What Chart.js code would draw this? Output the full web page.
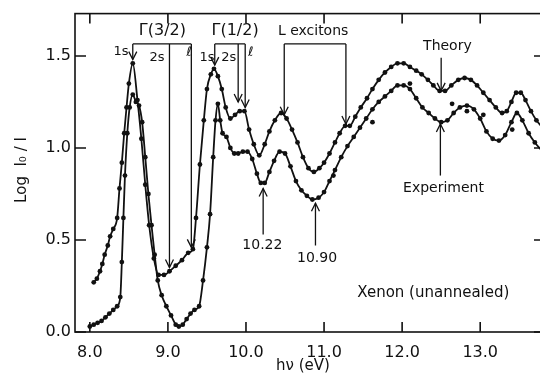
<!DOCTYPE html>
<html>
<head>
<meta charset="utf-8">
<script src="https://cdn.jsdelivr.net/npm/chart.js@4"></script>
<style>
  html, body { margin: 0; padding: 0; background: #fff; overflow: hidden; }
  #wrap { width: 540px; height: 375px; overflow: hidden; }
</style>
</head>
<body>
<div id="wrap"><canvas id="myChart" width="552" height="375"></canvas></div>
<script>
const theoryX = [8.05, 8.09, 8.13, 8.16, 8.19, 8.23, 8.26, 8.30, 8.35, 8.38, 8.41, 8.44, 8.47, 8.50, 8.55,
  8.61, 8.66, 8.71, 8.76, 8.82, 8.88, 8.95, 9.02, 9.10, 9.18, 9.26, 9.32, 9.36, 9.41, 9.46, 9.50, 9.55, 9.59,
  9.64, 9.69, 9.74, 9.80, 9.86, 9.92, 9.98, 10.04, 10.10, 10.17, 10.24, 10.30, 10.37, 10.45, 10.52, 10.59,
  10.66, 10.73, 10.80, 10.87, 10.94, 11.00, 11.07, 11.14, 11.20, 11.27, 11.33, 11.40, 11.47, 11.55, 11.62,
  11.70, 11.78, 11.86, 11.94, 12.02, 12.10, 12.18, 12.25, 12.33, 12.40, 12.48, 12.55, 12.63, 12.72, 12.80,
  12.88, 12.96, 13.04, 13.12, 13.20, 13.28, 13.34, 13.40, 13.46, 13.52, 13.58, 13.65, 13.72, 13.80];
const theoryY = [0.27, 0.29, 0.33, 0.37, 0.42, 0.47, 0.52, 0.56, 0.62, 0.78, 0.92, 1.08, 1.22, 1.35, 1.46,
  1.26, 1.05, 0.80, 0.58, 0.40, 0.31, 0.31, 0.33, 0.36, 0.39, 0.43, 0.45, 0.62, 0.91, 1.15, 1.32, 1.40, 1.43,
  1.39, 1.32, 1.22, 1.16, 1.18, 1.20, 1.20, 1.10, 1.02, 0.96, 1.02, 1.09, 1.15, 1.19, 1.16, 1.10,
  1.03, 0.95, 0.89, 0.87, 0.89, 0.92, 0.97, 1.03, 1.08, 1.12, 1.12, 1.17, 1.22, 1.27, 1.32,
  1.37, 1.41, 1.44, 1.46, 1.46, 1.44, 1.42, 1.40, 1.37, 1.34, 1.31, 1.31, 1.34, 1.37, 1.38,
  1.37, 1.34, 1.30, 1.26, 1.22, 1.19, 1.20, 1.25, 1.30, 1.30, 1.26, 1.20, 1.15, 1.11];

const exptX = [8.00, 8.05, 8.10, 8.15, 8.20, 8.25, 8.30, 8.35, 8.39, 8.41, 8.43, 8.45, 8.48, 8.51, 8.55,
  8.59, 8.63, 8.67, 8.71, 8.75, 8.79, 8.83, 8.87, 8.92, 8.98, 9.04, 9.10, 9.14, 9.19, 9.24, 9.29, 9.34, 9.40,
  9.45, 9.50, 9.54, 9.58, 9.61, 9.64, 9.67, 9.70, 9.75, 9.80, 9.85, 9.90, 9.96, 10.02, 10.08, 10.14, 10.19,
  10.24, 10.30, 10.36, 10.43, 10.50, 10.57, 10.64, 10.71, 10.78, 10.85, 10.93, 11.00, 11.07, 11.14, 11.22,
  11.30, 11.38, 11.46, 11.54, 11.62, 11.70, 11.78, 11.86, 11.94, 12.02, 12.10, 12.18, 12.26, 12.34, 12.42,
  12.50, 12.58, 12.66, 12.74, 12.83, 12.92, 13.00, 13.08, 13.16, 13.24, 13.32, 13.40, 13.47, 13.54, 13.62,
  13.70, 13.80];
const exptY = [0.03, 0.04, 0.05, 0.06, 0.08, 0.10, 0.12, 0.14, 0.19, 0.38, 0.62, 0.85, 1.08, 1.22, 1.29,
  1.25, 1.23, 1.14, 0.95, 0.75, 0.58, 0.42, 0.28, 0.20, 0.14, 0.09, 0.04, 0.03, 0.04, 0.07, 0.10, 0.12, 0.14,
  0.28, 0.46, 0.64, 0.95, 1.15, 1.24, 1.15, 1.08, 1.06, 1.00, 0.97, 0.97, 0.98, 0.98, 0.94, 0.86, 0.81,
  0.81, 0.87, 0.93, 0.98, 0.97, 0.90, 0.82, 0.77, 0.74, 0.72, 0.73, 0.76, 0.82, 0.88, 0.95,
  1.01, 1.06, 1.11, 1.16, 1.21, 1.25, 1.28, 1.31, 1.34, 1.34, 1.32, 1.27, 1.22, 1.19, 1.16,
  1.14, 1.15, 1.19, 1.22, 1.23, 1.21, 1.16, 1.09, 1.05, 1.04, 1.07, 1.14, 1.19, 1.15, 1.08,
  1.03, 0.98];

// loose experimental points lying off the curve
const looseX = [11.12, 11.62, 12.10, 12.64, 12.83, 13.04, 13.41];
const looseY = [0.85, 1.14, 1.35, 1.24, 1.20, 1.18, 1.10];

const xTicks = [8, 9, 10, 11, 12, 13];
const yTicks = [0, 0.5, 1.0, 1.5];

const FONT = '"DejaVu Sans", sans-serif';

// labels and arrows, in data units
const brackets = [
  { label: 'Γ(3/2)', x0: 8.55, x1: 9.30, y: 1.565, labelX: 8.93,
    drops: [[8.55, 1.48], [9.02, 0.35], [9.30, 0.46]],
    subs: [['1s', 8.40, 1.525], ['2s', 8.86, 1.49], ['ℓ', 9.27, 1.52]] },
  { label: 'Γ(1/2)', x0: 9.60, x1: 9.99, y: 1.565, labelX: 9.86,
    drops: [[9.60, 1.45], [9.90, 1.25], [9.99, 1.22]],
    subs: [['1s', 9.50, 1.49], ['2s', 9.78, 1.49], ['ℓ', 10.06, 1.52]] },
  { label: 'L excitons', x0: 10.49, x1: 11.28, y: 1.565, labelX: 10.86,
    drops: [[10.49, 1.18], [11.28, 1.13]], subs: [] }
];
const arrows = [
  { x: 12.50, from: 1.49, to: 1.31, text: 'Theory', tx: 12.58, ty: 1.55 },
  { x: 12.49, from: 0.85, to: 1.13, text: 'Experiment', tx: 12.53, ty: 0.78 },
  { x: 10.22, from: 0.53, to: 0.78, text: '10.22', tx: 10.21, ty: 0.47 },
  { x: 10.89, from: 0.47, to: 0.70, text: '10.90', tx: 10.91, ty: 0.40 }
];

function pts(xs, ys) { return xs.map((x, i) => ({ x: x, y: ys[i] })); }

function arrowHead(ctx, x, y, dir) {
  ctx.beginPath();
  ctx.moveTo(x - 4, y - dir * 8);
  ctx.lineTo(x, y);
  ctx.lineTo(x + 4, y - dir * 8);
  ctx.stroke();
}

const figurePlugin = {
  id: 'figure',
  afterDraw(chart) {
    const ctx = chart.ctx, a = chart.chartArea;
    const xs = chart.scales.x, ys = chart.scales.y;
    ctx.save();
    ctx.strokeStyle = '#111';
    ctx.fillStyle = '#111';
    ctx.lineWidth = 1.6;
    // frame
    ctx.strokeRect(a.left, a.top, a.right - a.left, a.bottom - a.top);
    // inward ticks
    ctx.beginPath();
    yTicks.forEach(v => {
      const py = ys.getPixelForValue(v);
      ctx.moveTo(a.left, py); ctx.lineTo(a.left + 11, py);
      ctx.moveTo(a.right, py); ctx.lineTo(a.right - 11, py);
    });
    xTicks.forEach(v => {
      const px = xs.getPixelForValue(v);
      ctx.moveTo(px, a.bottom); ctx.lineTo(px, a.bottom - 10);
      ctx.moveTo(px, a.top); ctx.lineTo(px, a.top + 10);
    });
    ctx.stroke();

    ctx.lineWidth = 1.3;
    ctx.textAlign = 'center';
    ctx.textBaseline = 'middle';
    brackets.forEach(b => {
      const by = ys.getPixelForValue(b.y);
      ctx.beginPath();
      ctx.moveTo(xs.getPixelForValue(b.x0), by);
      ctx.lineTo(xs.getPixelForValue(b.x1), by);
      b.drops.forEach(d => {
        const px = xs.getPixelForValue(d[0]);
        ctx.moveTo(px, by);
        ctx.lineTo(px, ys.getPixelForValue(d[1]));
      });
      ctx.stroke();
      b.drops.forEach(d => arrowHead(ctx, xs.getPixelForValue(d[0]), ys.getPixelForValue(d[1]), 1));
      ctx.font = (b.label === 'L excitons' ? '14px ' : '16px ') + FONT;
      ctx.fillText(b.label, xs.getPixelForValue(b.labelX), ys.getPixelForValue(1.635));
      ctx.font = '13px ' + FONT;
      b.subs.forEach(s => ctx.fillText(s[0], xs.getPixelForValue(s[1]), ys.getPixelForValue(s[2])));
    });

    arrows.forEach(r => {
      const px = xs.getPixelForValue(r.x);
      const y0 = ys.getPixelForValue(r.from), y1 = ys.getPixelForValue(r.to);
      ctx.beginPath();
      ctx.moveTo(px, y0); ctx.lineTo(px, y1);
      ctx.stroke();
      arrowHead(ctx, px, y1, y1 > y0 ? 1 : -1);
      ctx.font = '14px ' + FONT;
      ctx.fillText(r.text, xs.getPixelForValue(r.tx), ys.getPixelForValue(r.ty));
    });

    ctx.font = '15px ' + FONT;
    ctx.fillText('Xenon (unannealed)', xs.getPixelForValue(12.40), ys.getPixelForValue(0.21));

    // axis titles
    ctx.font = '15px ' + FONT;
    ctx.fillText('hν (eV)', 303, 366);
    ctx.translate(22, 170);
    ctx.rotate(-Math.PI / 2);
    ctx.fillText('Log  I₀ / I', 0, 0);
    ctx.restore();
  }
};

new Chart(document.getElementById('myChart').getContext('2d'), {
  type: 'line',
  data: {
    datasets: [
      { label: 'Theory', data: pts(theoryX, theoryY) },
      { label: 'Experiment', data: pts(exptX, exptY) },
      { label: 'Experiment points', data: pts(looseX, looseY), showLine: false }
    ]
  },
  options: {
    responsive: false,
    devicePixelRatio: 1,
    animation: false,
    layout: { padding: { top: 6, right: 7, left: 0, bottom: 0 } },
    elements: {
      line: { borderColor: '#111', borderWidth: 1.8, cubicInterpolationMode: 'monotone' },
      point: { radius: 2.4, backgroundColor: '#111', borderColor: '#111', borderWidth: 0 }
    },
    plugins: { legend: { display: false }, tooltip: { enabled: false } },
    scales: {
      x: {
        type: 'linear', min: 7.81, max: 13.83,
        grid: { display: false, drawTicks: false },
        border: { display: false },
        afterBuildTicks: s => { s.ticks = xTicks.map(v => ({ value: v })); },
        afterFit: s => { s.height = 43; },
        ticks: { padding: 11, color: '#111', font: { family: FONT, size: 16 },
          callback: v => v.toFixed(1), maxRotation: 0 }
      },
      y: {
        min: 0, max: 1.73,
        grid: { display: false, drawTicks: false },
        border: { display: false },
        afterBuildTicks: s => { s.ticks = yTicks.map(v => ({ value: v })); },
        afterFit: s => { s.width = 75; },
        ticks: { padding: 4, color: '#111', font: { family: FONT, size: 16 },
          callback: v => v.toFixed(1) }
      }
    }
  },
  plugins: [figurePlugin]
});
</script>
</body>
</html>
